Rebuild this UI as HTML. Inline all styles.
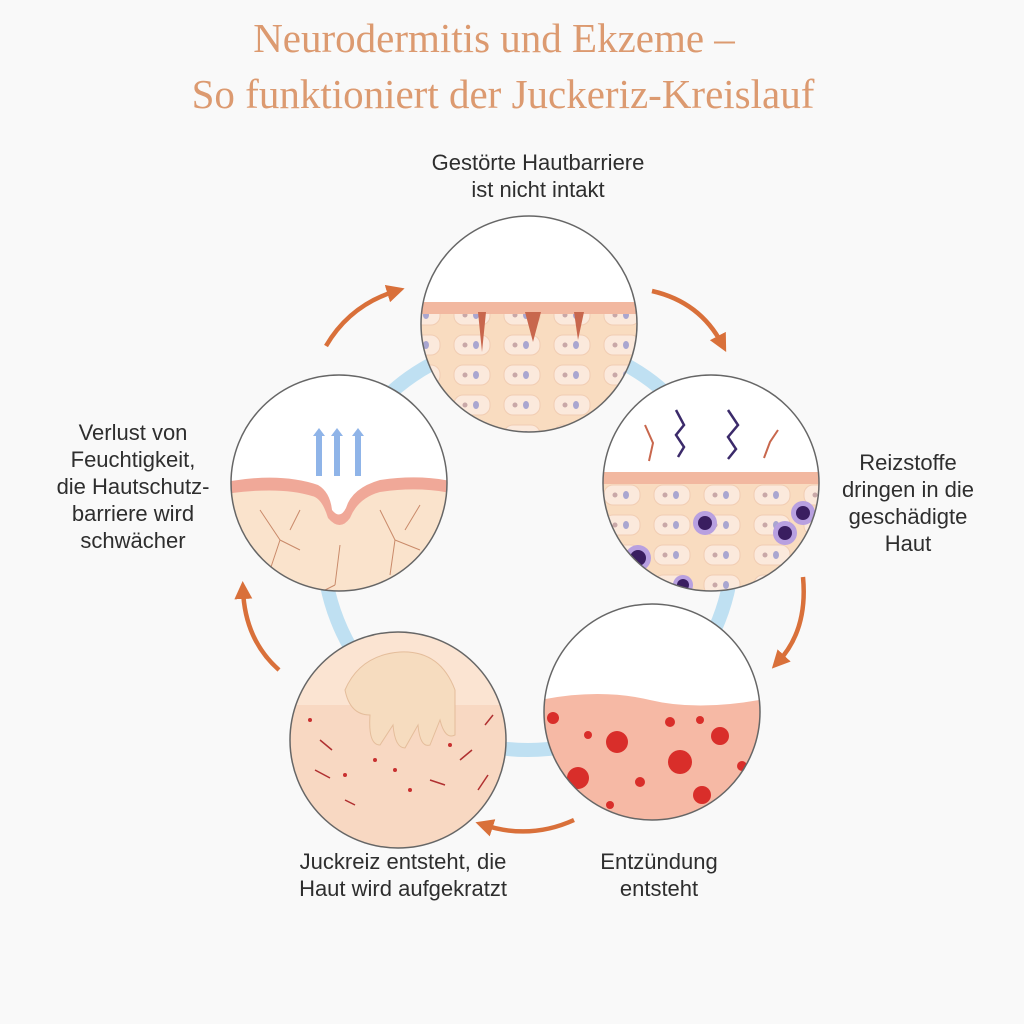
<!DOCTYPE html>
<html><head><meta charset="utf-8"><style>
body{margin:0;background:#f9f9f9;}
svg{display:block}
.t{font-family:"Liberation Serif",serif;font-size:41px;fill:#dc9a70;text-anchor:middle}
.l{font-family:"Liberation Sans",sans-serif;font-size:22px;fill:#2e2e2e;text-anchor:middle}
</style></head><body>
<svg width="1024" height="1024" viewBox="0 0 1024 1024" xmlns="http://www.w3.org/2000/svg">
<defs>
<clipPath id="c1"><circle cx="529" cy="324" r="108"/></clipPath>
<clipPath id="c2"><circle cx="711" cy="483" r="108"/></clipPath>
<clipPath id="c3"><circle cx="652" cy="712" r="108"/></clipPath>
<clipPath id="c4"><circle cx="398" cy="740" r="108"/></clipPath>
<clipPath id="c5"><circle cx="339" cy="483" r="108"/></clipPath>
<marker id="ah" viewBox="0 0 10 10" refX="5" refY="5" markerWidth="4" markerHeight="4" orient="auto"><path d="M0,0L10,5L0,10z" fill="#d9703a"/></marker>
<pattern id="cells" width="50" height="30" patternUnits="userSpaceOnUse">
<rect width="50" height="30" fill="#f9dcc0"/>
<rect x="4" y="5" width="36" height="20" rx="9" fill="#fbe9dc" stroke="#f1cdb3"/>
<ellipse cx="26" cy="15" rx="3" ry="4" fill="#a9a6d0"/>
<circle cx="15" cy="15" r="2.5" fill="#c9a8a8"/>
</pattern>
</defs>
<text class="t" x="494" y="52">Neurodermitis und Ekzeme –</text>
<text class="t" x="503" y="108">So funktioniert der Juckeriz-Kreislauf</text>

<circle cx="528" cy="545" r="205" fill="none" stroke="#bfe0f2" stroke-width="14"/>

<g clip-path="url(#c1)"><rect x="400" y="200" width="260" height="260" fill="#fff"/>
<rect x="400" y="308" width="260" height="150" fill="url(#cells)"/>
<rect x="400" y="302" width="260" height="12" fill="#f2b8a0"/>
<path d="M478,312 l8,0 l-4,40z M525,312 l16,0 l-8,30z M574,312 l10,0 l-6,28z" fill="#c8674d"/></g>
<circle cx="529" cy="324" r="108" fill="none" stroke="#666" stroke-width="1.5"/>

<g clip-path="url(#c2)"><rect x="600" y="370" width="230" height="230" fill="#fff"/>
<rect x="600" y="478" width="230" height="130" fill="url(#cells)"/>
<rect x="600" y="472" width="230" height="12" fill="#f2b8a0"/>
<path d="M676,410 l8,15 l-8,10 l8,12 l-6,10" fill="none" stroke="#3b2a6a" stroke-width="2.5"/>
<path d="M728,410 l10,15 l-10,12 l8,12 l-8,10" fill="none" stroke="#3b2a6a" stroke-width="2.5"/>
<path d="M645,425 l8,18 l-4,18" fill="none" stroke="#c8674d" stroke-width="2"/>
<path d="M778,430 l-8,12 l-6,16" fill="none" stroke="#c8674d" stroke-width="2"/>
<circle cx="705" cy="523" r="12" fill="#b8a0e0"/><circle cx="705" cy="523" r="7" fill="#3a1e60"/>
<circle cx="785" cy="533" r="12" fill="#b8a0e0"/><circle cx="785" cy="533" r="7" fill="#3a1e60"/>
<circle cx="803" cy="513" r="12" fill="#b8a0e0"/><circle cx="803" cy="513" r="7" fill="#3a1e60"/>
<circle cx="638" cy="558" r="13" fill="#b8a0e0"/><circle cx="638" cy="558" r="8" fill="#3a1e60"/>
<circle cx="683" cy="585" r="10" fill="#b8a0e0"/><circle cx="683" cy="585" r="6" fill="#3a1e60"/></g>
<circle cx="711" cy="483" r="108" fill="none" stroke="#666" stroke-width="1.5"/>

<g clip-path="url(#c3)"><rect x="540" y="600" width="230" height="230" fill="#fff"/>
<path d="M540,700 Q600,688 650,700 T770,698 L770,830 L540,830z" fill="#f6b9a5"/>
<g fill="#d92e2a"><circle cx="617" cy="742" r="11"/><circle cx="680" cy="762" r="12"/><circle cx="578" cy="778" r="11"/><circle cx="702" cy="795" r="9"/><circle cx="720" cy="736" r="9"/><circle cx="553" cy="718" r="6"/><circle cx="588" cy="735" r="4"/><circle cx="670" cy="722" r="5"/><circle cx="640" cy="782" r="5"/><circle cx="742" cy="766" r="5"/><circle cx="610" cy="805" r="4"/><circle cx="700" cy="720" r="4"/></g></g>
<circle cx="652" cy="712" r="108" fill="none" stroke="#666" stroke-width="1.5"/>

<g clip-path="url(#c4)"><rect x="280" y="620" width="240" height="240" fill="#fbe4d2"/>
<path d="M290,705 L510,705 L510,850 L290,850z" fill="#f8d8c2"/>
<path d="M345,690 Q360,655 400,652 Q440,650 455,690 L455,735 Q445,740 440,720 L430,745 Q420,748 418,725 L405,748 Q395,748 393,725 L380,745 Q368,745 370,715 Q350,715 345,690z" fill="#f6dcbf" stroke="#e4bd9b"/>
<g stroke="#b03030" stroke-width="1.5" fill="none"><path d="M320,740 l12,10"/><path d="M315,770 l15,8"/><path d="M460,760 l12,-10"/><path d="M478,790 l10,-15"/><path d="M430,780 l15,5"/><path d="M345,800 l10,5"/><path d="M485,725 l8,-10"/></g>
<g fill="#c83030"><circle cx="310" cy="720" r="2"/><circle cx="375" cy="760" r="2"/><circle cx="410" cy="790" r="2"/><circle cx="450" cy="745" r="2"/><circle cx="395" cy="770" r="2"/><circle cx="345" cy="775" r="2"/></g></g>
<circle cx="398" cy="740" r="108" fill="none" stroke="#666" stroke-width="1.5"/>

<g clip-path="url(#c5)"><rect x="225" y="370" width="230" height="230" fill="#fff"/>
<path d="M225,488 Q280,478 315,490 Q330,495 332,515 Q340,528 348,512 Q352,492 380,484 Q420,478 455,486 L455,600 L225,600z" fill="#fae3cc"/>
<path d="M225,482 Q280,472 318,485 Q330,492 332,510 Q340,520 346,508 Q352,488 380,480 Q420,474 455,482 L455,494 Q420,486 380,492 Q358,498 350,518 Q340,532 328,518 Q322,498 312,496 Q280,486 225,494z" fill="#f0a898"/>
<g stroke="#c98a6a" stroke-width="1" fill="none"><path d="M260,510 l20,30 l-10,30 M280,540 l20,10 M300,510 l-10,20"/><path d="M380,510 l15,30 l-5,35 M395,540 l25,10 M420,505 l-15,25"/><path d="M340,545 l-5,40 M335,585 l-20,10"/></g>
<g fill="#8fb4e8"><path d="M313,436 l6,-8 l6,8 h-3 v40 h-6 v-40z"/><path d="M331,436 l6,-8 l6,8 h-3 v40 h-6 v-40z"/><path d="M352,436 l6,-8 l6,8 h-3 v40 h-6 v-40z"/></g></g>
<circle cx="339" cy="483" r="108" fill="none" stroke="#666" stroke-width="1.5"/>

<g fill="none" stroke="#d9703a" stroke-width="4.5" marker-end="url(#ah)">
<path d="M326,346 Q350,305 396,291"/>
<path d="M652,291 Q700,302 722,344"/>
<path d="M803,577 Q808,630 778,662"/>
<path d="M574,820 Q530,840 484,825"/>
<path d="M279,670 Q245,640 243,590"/>
</g>

<text class="l" x="538" y="170">Gestörte Hautbarriere</text>
<text class="l" x="538" y="197">ist nicht intakt</text>
<text class="l" x="908" y="470">Reizstoffe</text>
<text class="l" x="908" y="497">dringen in die</text>
<text class="l" x="908" y="524">geschädigte</text>
<text class="l" x="908" y="551">Haut</text>
<text class="l" x="659" y="869">Entzündung</text>
<text class="l" x="659" y="896">entsteht</text>
<text class="l" x="403" y="869">Juckreiz entsteht, die</text>
<text class="l" x="403" y="896">Haut wird aufgekratzt</text>
<text class="l" x="133" y="440">Verlust von</text>
<text class="l" x="133" y="467">Feuchtigkeit,</text>
<text class="l" x="133" y="494">die Hautschutz-</text>
<text class="l" x="133" y="521">barriere wird</text>
<text class="l" x="133" y="548">schwächer</text>
</svg>
</body></html>
